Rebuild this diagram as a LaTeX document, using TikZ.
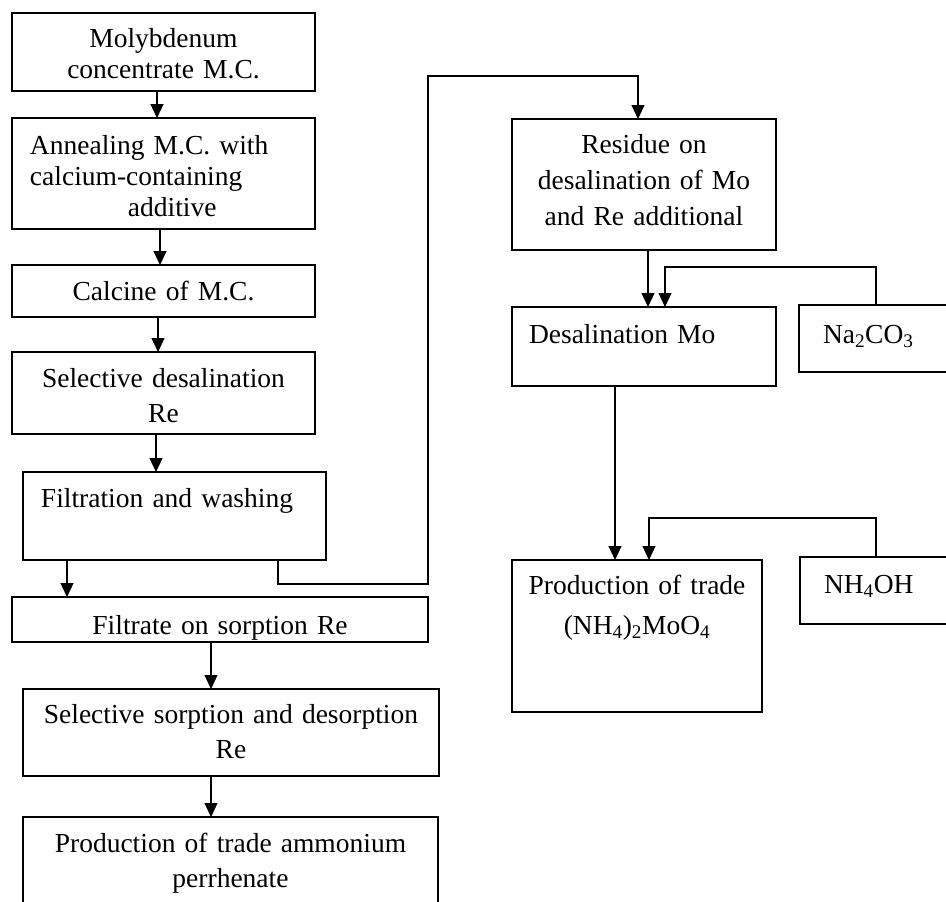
\documentclass[tikz,border=0pt]{standalone}
\usepackage{fontspec}
\setmainfont{Liberation Serif}
\usetikzlibrary{arrows.meta}
\begin{document}
\begin{tikzpicture}[x=1pt, y=-1pt]
  \tikzstyle{every node}=[font=\fontsize{27.5}{31}\selectfont]
  \tikzstyle{box}=[draw, line width=1.2pt, anchor=north west, inner xsep=0pt, inner ysep=0pt, outer sep=0pt, align=center]
  \tikzstyle{flow}=[line width=1.2pt, -{Triangle[width=13pt,length=14pt]}]
  \useasboundingbox (0,0) rectangle (946,902);

  % left column
  \path (12,13) node[box, text width=303pt, text height=34pt, text depth=44pt] (mc)
    {Molybdenum\\concentrate M.C.};
  \path (12,118) node[box, align=left, inner xsep=18pt, text width=267pt, text height=36pt, text depth=75pt] (ann)
    {Annealing M.C. with\\calcium-containing\\\hspace*{98pt}additive};
  \path (12,265) node[box, text width=303pt, text height=35pt, text depth=17pt] (cal) {Calcine of M.C.};
  \path (12,352) node[box, text width=303pt, text height=35pt, text depth=47pt] (sd)
    {Selective desalination\\[4pt]Re};
  \path (23,472) node[box, align=left, inner xsep=18pt, text width=267pt, text height=35pt, text depth=53pt] (fw)
    {Filtration and washing};
  \path (12,597) node[box, text width=416pt, text height=37pt, text depth=8pt] (fr) {Filtrate on sorption Re};
  \path (23,689) node[box, text width=416pt, text height=34pt, text depth=53pt] (ssd)
    {Selective sorption and desorption\\[4pt]Re};
  \path (23,817) node[box, text width=415pt, text height=35pt, text depth=68pt] (pap)
    {Production of trade ammonium\\[4pt]perrhenate};

  % right column
  \path (512,119) node[box, text width=264pt, text height=34pt, text depth=97pt] (res)
    {Residue on\\[5pt]desalination of Mo\\[5pt]and Re additional};
  \path (512,307) node[box, align=left, inner xsep=17pt, text width=230pt, text height=36pt, text depth=43pt] (dm)
    {Desalination Mo};
  \path (799,305) node[box, align=left, inner xsep=24pt, text width=112pt, text height=38pt, text depth=29pt] (na)
    {Na\textsubscript{2}CO\textsubscript{3}};
  \path (512,560) node[box, text width=250pt, text height=34pt, text depth=118pt] (pam)
    {Production of trade\\[9pt](NH\textsubscript{4})\textsubscript{2}MoO\textsubscript{4}};
  \path (800,557) node[box, align=left, inner xsep=24pt, text width=112pt, text height=36pt, text depth=31pt] (nh)
    {NH\textsubscript{4}OH};

  \coordinate (turn) at (428,76);

  % connectors
  \draw[flow] ([xshift=145pt]mc.south west) -- ([xshift=145pt]mc.south west |- ann.north);
  \draw[flow] ([xshift=148pt]ann.south west) -- ([xshift=148pt]ann.south west |- cal.north);
  \draw[flow] ([xshift=146pt]cal.south west) -- ([xshift=146pt]cal.south west |- sd.north);
  \draw[flow] ([xshift=144pt]sd.south west) -- ([xshift=144pt]sd.south west |- fw.north);
  \draw[flow] ([xshift=44pt]fw.south west) -- ([xshift=44pt]fw.south west |- fr.north);
  \draw[flow] ([xshift=199pt]fr.south west) -- ([xshift=199pt]fr.south west |- ssd.north);
  \draw[flow] ([xshift=188pt]ssd.south west) -- ([xshift=188pt]ssd.south west |- pap.north);
  \draw[flow] ([xshift=255pt]fw.south west) -- ++(0,24) -| (turn) -| ([xshift=-6pt]res.north);
  \draw[flow] ([xshift=4pt]res.south) -- ([xshift=4pt]res.south |- dm.north);
  \draw[flow] ([xshift=77pt]na.north west) -- ++(0,-38) -| ([xshift=21pt]dm.north);
  \draw[flow] ([xshift=103pt]dm.south west) -- ([xshift=103pt]dm.south west |- pam.north);
  \draw[flow] ([xshift=76pt]nh.north west) -- ++(0,-39) -| ([xshift=137pt]pam.north west);
\end{tikzpicture}
\end{document}
